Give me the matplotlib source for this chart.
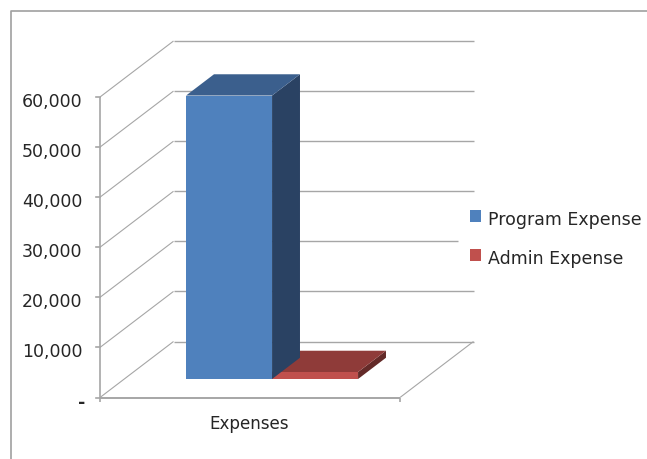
import matplotlib
matplotlib.use("Agg")
import matplotlib.pyplot as plt
from matplotlib.patches import Polygon, Patch, Rectangle
from matplotlib.lines import Line2D
from matplotlib.legend_handler import HandlerPatch

categories = ["Expenses"]
series_names = ["Program Expense", "Admin Expense"]
series_values = [56600, 1400]
value_ticks = [0, 10000, 20000, 30000, 40000, 50000, 60000]
tick_labels = ["-", "10,000", "20,000", "30,000", "40,000", "50,000", "60,000"]
front_colors = ["#4f81bd", "#c0504d"]
side_colors = ["#2a4263", "#632a28"]
top_colors = ["#3b5f8d", "#8f3b39"]

W, H = 647, 459
fig = plt.figure(figsize=(W / 100, H / 100), dpi=100)
fig.patch.set_facecolor("white")
ax = fig.add_axes([100 / W, 1 - 397.5 / H, 300 / W, 300.5 / H])
ax.set_xlim(0, 1)
ax.set_ylim(0, 60000)
ax.axis("off")

GRID = "#a6a6a6"
TEXT = "#262626"
DX = 73.5 / 300
DY = 56 / 300.5 * 60000


def proj(x, v, d):
    return x + DX * d, v + DY * d


def seg(p, q, lw=1.0, color=GRID):
    ax.add_line(Line2D([p[0], q[0]], [p[1], q[1]], color=color, lw=lw,
                       clip_on=False, solid_capstyle="butt", zorder=1))


# walls and gridlines
right_ends = {20000: 0.95}
for v, lab in zip(value_ticks, tick_labels):
    seg(proj(0, v, 0), proj(0, v, 1), lw=0.8)
    seg(proj(0, v, 1), proj(right_ends.get(v, 1), v, 1), lw=1.0)
    ax.add_line(Line2D([-4 / 300, 0], [v, v], color=GRID, lw=1.2, clip_on=False))
    ax.text(-17.5 / 300 if v else -15 / 300, v - 1000, lab,
            ha="right", va="center", fontsize=12.5, color=TEXT, clip_on=False,
            fontweight="bold" if v == 0 else "normal")
seg(proj(0, 0, 0), proj(0, 60000, 0), lw=1.2)
seg(proj(0, 0, 0), proj(1, 0, 0), lw=1.4)
seg(proj(1, 0, 0), proj(1, 0, 1), lw=0.8)
seg((0, 0), (0, -800), lw=1.2)
seg((1, 0), (1, -800), lw=1.2)

# 3-D bars
BAR_W = 86 / 300
X0 = 0.206
D0, D1 = 0.33, 0.71
for i, val in enumerate(series_values):
    x0, x1 = X0 + i * BAR_W, X0 + (i + 1) * BAR_W
    front = [proj(x0, 0, D0), proj(x1, 0, D0), proj(x1, val, D0), proj(x0, val, D0)]
    side = [proj(x1, 0, D0), proj(x1, 0, D1), proj(x1, val, D1), proj(x1, val, D0)]
    top = [proj(x0, val, D0), proj(x1, val, D0), proj(x1, val, D1), proj(x0, val, D1)]
    z = 5 - i
    ax.add_patch(Polygon(side, closed=True, fc=side_colors[i], ec="none", clip_on=False, zorder=z))
    ax.add_patch(Polygon(top, closed=True, fc=top_colors[i], ec="none", clip_on=False, zorder=z))
    ax.add_patch(Polygon(front, closed=True, fc=front_colors[i], ec="none", clip_on=False, zorder=z))

ax.text(0.4975, -5300, categories[0], ha="center", va="center", fontsize=12.1,
        color=TEXT, clip_on=False)

# outer chart border (open at right and bottom, as cropped in the picture)
fig.add_artist(Line2D([11 / W, 11 / W, 1], [0, 1 - 11 / H, 1 - 11 / H],
                      color="#a0a0a0", lw=1.2))


def raised_box(legend, orig_handle, xdescent, ydescent, width, height, fontsize):
    return Rectangle((-xdescent, -ydescent + 2.0), width, height)


handles = [Patch(fc=c, ec="none", label=n) for c, n in zip(front_colors, series_names)]
fig.legend(handles=handles, loc="center left", bbox_to_anchor=(470 / W, 1 - 239.5 / H),
           frameon=False, fontsize=12.5, handlelength=0.65, handleheight=0.65,
           handletextpad=0.38, labelspacing=1.2, labelcolor=TEXT,
           borderpad=0, borderaxespad=0,
           handler_map={Patch: HandlerPatch(patch_func=raised_box)})

fig.savefig("out.png", dpi=100)
